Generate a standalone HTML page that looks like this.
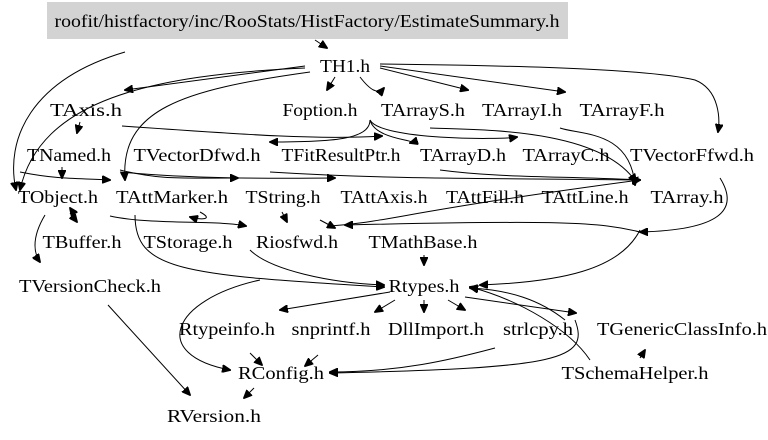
<!DOCTYPE html>
<html><head><meta charset="utf-8"><style>
html,body{margin:0;padding:0;background:#fff;}
svg{display:block;}
text{font-family:"Liberation Serif",serif;font-size:17.5px;fill:#000;text-anchor:middle;}
path{fill:none;stroke:#000;stroke-width:1;}
</style></head><body>
<svg width="768" height="440" viewBox="0 0 768 440" xmlns="http://www.w3.org/2000/svg">
<defs><marker id="a" markerWidth="9" markerHeight="8" refX="8" refY="4" orient="auto" markerUnits="userSpaceOnUse"><path d="M0,0 L9,4 L0,8 Z" style="fill:#000;stroke:#000"/></marker></defs>
<rect x="47" y="2" width="521" height="37" fill="#d3d3d3"/>
<text x="307" y="27" textLength="505" lengthAdjust="spacingAndGlyphs">roofit/histfactory/inc/RooStats/HistFactory/EstimateSummary.h</text>
<g marker-end="url(#a)">
<path d="M315,40 L327,48"/>
<path d="M125,52 C30,80 5,140 16,190"/>
<path d="M305,66 L125,90"/>
<path d="M305,68 C150,75 40,100 20,190"/>
<path d="M335,77 L327,90"/>
<path d="M360,77 C370,90 378,95 384,88"/>
<path d="M380,68 L468,90"/>
<path d="M380,66 L565,92"/>
<path d="M380,64 C550,66 650,70 695,80 C720,90 720,120 718,132"/>
<path d="M310,72 C180,90 120,110 125,180"/>
<path d="M80,122 L77,133"/>
<path d="M122,126 C250,135 320,140 382,136"/>
<path d="M370,120 C370,140 330,142 270,142"/>
<path d="M370,120 C375,140 420,140 410,143"/>
<path d="M370,120 C380,140 500,140 517,137"/>
<path d="M62,167 L62,178"/>
<path d="M20,172 C60,180 80,178 110,180"/>
<path d="M120,170 C160,180 180,178 238,178"/>
<path d="M120,172 C200,180 300,178 335,178"/>
<path d="M270,172 C400,180 500,178 640,180"/>
<path d="M440,170 C500,178 560,176 640,180"/>
<path d="M560,128 C580,135 630,130 635,185"/>
<path d="M430,128 C480,130 600,128 636,182"/>
<path d="M330,226 C390,222 400,212 640,180"/>
<path d="M640,232 C600,222 560,220 345,225"/>
<path d="M110,216 C150,225 220,220 246,226"/>
<path d="M70,213 L77,222"/>
<path d="M75,215 L70,208"/>
<path d="M45,215 C30,240 35,255 40,262"/>
<path d="M320,220 L335,228"/>
<path d="M282,212 L287,222"/>
<path d="M200,212 C215,220 200,220 190,217"/>
<path d="M640,230 C620,270 560,282 480,285"/>
<path d="M720,178 C740,210 720,230 640,232"/>
<path d="M250,250 C270,270 330,283 384,285"/>
<path d="M135,215 C135,270 180,275 384,287"/>
<path d="M424,255 L424,265"/>
<path d="M390,292 L280,310"/>
<path d="M395,300 L375,312"/>
<path d="M424,300 L424,312"/>
<path d="M448,300 L465,310"/>
<path d="M465,297 L576,313"/>
<path d="M590,360 C570,330 520,300 470,287"/>
<path d="M565,320 C540,300 510,290 470,288"/>
<path d="M640,358 L645,350"/>
<path d="M250,353 L262,365"/>
<path d="M318,355 L305,366"/>
<path d="M495,348 C450,360 400,372 330,372"/>
<path d="M575,320 C590,360 560,368 330,373"/>
<path d="M260,280 C170,300 150,355 230,370"/>
<path d="M108,305 L190,395"/>
<path d="M254,388 L244,398"/>
</g>
<text x="345" y="72" textLength="50" lengthAdjust="spacingAndGlyphs">TH1.h</text>
<text x="86" y="116" textLength="72" lengthAdjust="spacingAndGlyphs">TAxis.h</text>
<text x="320" y="116" textLength="75" lengthAdjust="spacingAndGlyphs">Foption.h</text>
<text x="423" y="116" textLength="84" lengthAdjust="spacingAndGlyphs">TArrayS.h</text>
<text x="522" y="116" textLength="80" lengthAdjust="spacingAndGlyphs">TArrayI.h</text>
<text x="622" y="116" textLength="85" lengthAdjust="spacingAndGlyphs">TArrayF.h</text>
<text x="69" y="161" textLength="84" lengthAdjust="spacingAndGlyphs">TNamed.h</text>
<text x="197" y="161" textLength="127" lengthAdjust="spacingAndGlyphs">TVectorDfwd.h</text>
<text x="341" y="161" textLength="119" lengthAdjust="spacingAndGlyphs">TFitResultPtr.h</text>
<text x="463" y="161" textLength="86" lengthAdjust="spacingAndGlyphs">TArrayD.h</text>
<text x="566" y="161" textLength="87" lengthAdjust="spacingAndGlyphs">TArrayC.h</text>
<text x="692" y="161" textLength="124" lengthAdjust="spacingAndGlyphs">TVectorFfwd.h</text>
<text x="58" y="203" textLength="80" lengthAdjust="spacingAndGlyphs">TObject.h</text>
<text x="172" y="203" textLength="112" lengthAdjust="spacingAndGlyphs">TAttMarker.h</text>
<text x="283" y="203" textLength="75" lengthAdjust="spacingAndGlyphs">TString.h</text>
<text x="384" y="203" textLength="87" lengthAdjust="spacingAndGlyphs">TAttAxis.h</text>
<text x="485" y="203" textLength="78" lengthAdjust="spacingAndGlyphs">TAttFill.h</text>
<text x="585" y="203" textLength="87" lengthAdjust="spacingAndGlyphs">TAttLine.h</text>
<text x="687" y="203" textLength="73" lengthAdjust="spacingAndGlyphs">TArray.h</text>
<text x="82" y="248" textLength="79" lengthAdjust="spacingAndGlyphs">TBuffer.h</text>
<text x="188" y="248" textLength="89" lengthAdjust="spacingAndGlyphs">TStorage.h</text>
<text x="297" y="248" textLength="82" lengthAdjust="spacingAndGlyphs">Riosfwd.h</text>
<text x="423" y="248" textLength="109" lengthAdjust="spacingAndGlyphs">TMathBase.h</text>
<text x="90" y="292" textLength="142" lengthAdjust="spacingAndGlyphs">TVersionCheck.h</text>
<text x="424" y="292" textLength="71" lengthAdjust="spacingAndGlyphs">Rtypes.h</text>
<text x="227" y="335" textLength="96" lengthAdjust="spacingAndGlyphs">Rtypeinfo.h</text>
<text x="331" y="335" textLength="79" lengthAdjust="spacingAndGlyphs">snprintf.h</text>
<text x="436" y="335" textLength="96" lengthAdjust="spacingAndGlyphs">DllImport.h</text>
<text x="538" y="335" textLength="70" lengthAdjust="spacingAndGlyphs">strlcpy.h</text>
<text x="682" y="335" textLength="170" lengthAdjust="spacingAndGlyphs">TGenericClassInfo.h</text>
<text x="281" y="379" textLength="86" lengthAdjust="spacingAndGlyphs">RConfig.h</text>
<text x="635" y="379" textLength="147" lengthAdjust="spacingAndGlyphs">TSchemaHelper.h</text>
<text x="214" y="422" textLength="94" lengthAdjust="spacingAndGlyphs">RVersion.h</text>
</svg>
</body></html>
